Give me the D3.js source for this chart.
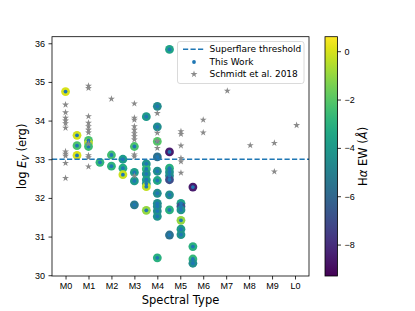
<!DOCTYPE html>
<html>
<head>
<meta charset="utf-8">
<script src="https://cdn.jsdelivr.net/npm/d3@7"></script>
<style>
  body { margin: 0; background: #fff; }
  svg { font-family: "DejaVu Sans", sans-serif; }
  .tick text { font-size: 9px; fill: #000; }
  .tick line { stroke: #000; stroke-width: 0.8; }
</style>
</head>
<body>
<div id="container"></div>
<script>
/* ---------- DATA ---------- */
// spectral type ticks
const sptLabels = ["M0", "M1", "M2", "M3", "M4", "M5", "M6", "M7", "M8", "M9", "L0"];
const logETicks = [30, 31, 32, 33, 34, 35, 36];
const ewTicks = [0, -2, -4, -6, -8];
const legendLabels = ["Superflare threshold", "This Work", "Schmidt et al. 2018"];
const threshold = 33;

// This Work: spectral type, log E_V, H-alpha EW
const workSpt = [
  0,
  0.5, 0.5, 0.5,
  1, 1, 1,
  1.5,
  2, 2,
  2.5, 2.5, 2.5,
  3, 3, 3, 3,
  3.52, 3.52, 3.52, 3.52, 3.52, 3.52, 3.52, 3.52,
  4, 4, 4, 4, 4, 4, 4, 4, 4, 4, 4, 4,
  4.53, 4.53, 4.53, 4.53, 4.53, 4.53, 4.53, 4.53, 4.53,
  5.03, 5.03, 5.03, 5.03, 5.03, 5.03,
  5.55, 5.55, 5.55, 5.55
];
const workLogE = [
  34.75,
  33.62, 33.35, 33.10,
  33.49, 33.42, 33.33,
  32.92,
  33.11, 32.82,
  33.00, 32.77, 32.60,
  33.33, 32.66, 32.44, 31.82,
  34.10, 32.88, 32.75, 32.62, 32.47, 32.37, 32.29, 31.68,
  34.37, 33.84, 33.46, 33.06, 32.69, 32.45, 32.12, 31.86, 31.78, 31.66, 31.52, 30.45,
  35.84, 33.19, 32.77, 32.67, 32.57, 32.47, 32.08, 31.69, 31.04,
  31.86, 31.78, 31.69, 31.42, 31.19, 31.05,
  32.28, 30.74, 30.42, 30.31
];
const workEW = [
  0.0,
  -0.1, -2.2, 0.0,
  -2.3, -0.5, -2.5,
  -2.8,
  -2.4, -2.9,
  -3.9, -3.2, -0.2,
  -2.2, -3.8, -4.0, -5.3,
  -4.0, -4.2, -2.8, -4.3, -3.8, -4.2, -0.3, -1.0,
  -4.6, -4.5, -2.0, -5.6, -4.4, -3.4, -4.5, -4.4, -4.6, -4.5, -4.2, -3.0,
  -3.6, -8.6, -3.0, -4.2, -4.4, -7.0, -4.5, -3.0, -5.6,
  -3.6, -6.8, -4.2, -1.0, -4.0, -4.3,
  -8.6, -3.0, -2.7, -4.5
];

// Schmidt et al. 2018: spectral type, log E_V
const schmidtSpt = [
  0, 0, 0, 0, 0, 0, 0, 0, 0, 0, 0,
  1, 1, 1, 1, 1, 1, 1, 1, 1, 1, 1,
  2,
  3, 3, 3, 3, 3, 3, 3, 3, 3, 3, 3,
  4, 4, 4, 4,
  5.03, 5.03, 5.03, 5.03, 5.03, 5.03,
  6, 6,
  7.05,
  8.05,
  9.1, 9.1,
  10.07
];
const schmidtLogE = [
  34.41, 34.21, 34.07, 34.00, 33.93, 33.81, 33.20, 33.14, 33.09, 32.90, 32.51,
  34.90, 34.84, 34.11, 33.94, 33.85, 33.76, 33.69, 33.40, 33.10, 33.05, 32.81,
  34.56,
  34.44, 34.07, 34.02, 33.85, 33.76, 33.67, 33.59, 33.51, 33.12, 33.07, 32.57,
  34.19, 33.68, 33.47, 33.29,
  33.72, 33.65, 33.35, 33.03, 32.94, 32.65,
  34.02, 33.69,
  34.77,
  33.36,
  33.42, 32.68,
  33.88
];

/* ---------- CONSTANTS ---------- */
const width = 415,
  height = 311,
  plot = { left: 52, right: 309, top: 36.7, bottom: 276 },
  cbar = { left: 325, right: 337.5 };

const work = workSpt.map((s, i) => ({ spt: s, logE: workLogE[i], ew: workEW[i] }));
const schmidt = schmidtSpt.map((s, i) => ({ spt: s, logE: schmidtLogE[i] }));

/* ---------- SCALES ---------- */
const xScale = d3.scaleLinear().domain([-0.59, 10.61]).range([plot.left, plot.right]);
const yScale = d3.scaleLinear().domain([29.98, 36.17]).range([plot.bottom, plot.top]);
const ewScale = d3.scaleLinear().domain([-9.3, 0.6]).range([plot.bottom, plot.top]);
const colorScale = d3.scaleSequential(d3.interpolateViridis).domain([-9.3, 0.6]);

const svg = d3.select("#container")
  .append("svg")
  .attr("width", width)
  .attr("height", height);

/* ---------- AXES ---------- */
const xAxis = d3.axisBottom(xScale)
  .tickValues(d3.range(sptLabels.length))
  .tickFormat(i => sptLabels[i])
  .tickSize(3.5)
  .tickPadding(3.5);

const yAxis = d3.axisLeft(yScale)
  .tickValues(logETicks)
  .tickFormat(d3.format("d"))
  .tickSize(3.5)
  .tickPadding(3.5);

svg.append("g")
  .attr("transform", `translate(0,${plot.bottom})`)
  .call(xAxis)
  .call(g => g.select(".domain").remove());

svg.append("g")
  .attr("transform", `translate(${plot.left},0)`)
  .call(yAxis)
  .call(g => g.select(".domain").remove());

/* ---------- MARKS ---------- */
// coloured circles (H-alpha EW)
svg.append("g")
  .selectAll("circle")
  .data(work)
  .join("circle")
  .attr("cx", d => xScale(d.spt))
  .attr("cy", d => yScale(d.logE))
  .attr("r", 4.4)
  .attr("fill", d => colorScale(d.ew));

// superflare threshold
svg.append("line")
  .attr("x1", plot.left)
  .attr("x2", plot.right)
  .attr("y1", yScale(threshold))
  .attr("y2", yScale(threshold))
  .attr("stroke", "#1f77b4")
  .attr("stroke-width", 1.4)
  .attr("stroke-dasharray", "5.2,2.3");

// this work dots
svg.append("g")
  .selectAll("circle")
  .data(work)
  .join("circle")
  .attr("cx", d => xScale(d.spt))
  .attr("cy", d => yScale(d.logE))
  .attr("r", 1.9)
  .attr("fill", "#1f77b4");

// Schmidt stars
const star = d3.symbol().type(d3.symbolStar).size(15);
svg.append("g")
  .selectAll("path")
  .data(schmidt)
  .join("path")
  .attr("d", star)
  .attr("transform", d => `translate(${xScale(d.spt)},${yScale(d.logE)})`)
  .attr("fill", "#8a8a8a");

// frame
svg.append("rect")
  .attr("x", plot.left)
  .attr("y", plot.top)
  .attr("width", plot.right - plot.left)
  .attr("height", plot.bottom - plot.top)
  .attr("fill", "none")
  .attr("stroke", "#000")
  .attr("stroke-width", 0.8);

/* ---------- LEGEND ---------- */
const lg = svg.append("g");
lg.append("rect")
  .attr("x", 177.5).attr("y", 41.5)
  .attr("width", 126.5).attr("height", 42)
  .attr("rx", 2.5)
  .attr("fill", "#fff").attr("fill-opacity", 0.8)
  .attr("stroke", "#d0d0d0").attr("stroke-width", 0.8);

const rowY = [49.2, 62, 74.2];
lg.append("line")
  .attr("x1", 183).attr("x2", 205)
  .attr("y1", rowY[0]).attr("y2", rowY[0])
  .attr("stroke", "#1f77b4").attr("stroke-width", 1.4)
  .attr("stroke-dasharray", "5.2,2.3");
lg.append("circle")
  .attr("cx", 194).attr("cy", rowY[1]).attr("r", 1.9)
  .attr("fill", "#1f77b4");
lg.append("path")
  .attr("d", star)
  .attr("transform", `translate(194,${rowY[2]})`)
  .attr("fill", "#8a8a8a");
lg.selectAll("text")
  .data(legendLabels)
  .join("text")
  .attr("x", 209.5)
  .attr("y", (d, i) => rowY[i] + 3.2)
  .attr("font-size", 9)
  .text(d => d);

/* ---------- AXIS LABELS ---------- */
svg.append("text")
  .attr("x", (plot.left + plot.right) / 2)
  .attr("y", 303.5)
  .attr("text-anchor", "middle")
  .attr("font-size", 11.5)
  .text("Spectral Type");

const yl = svg.append("text")
  .attr("transform", `translate(26,${(plot.top + plot.bottom) / 2}) rotate(-90)`)
  .attr("text-anchor", "middle")
  .attr("font-size", 11.5);
yl.append("tspan").text("log ");
yl.append("tspan").attr("font-style", "italic").text("E");
yl.append("tspan").attr("font-style", "italic").attr("font-size", 8).attr("dy", 2.5).text("V");
yl.append("tspan").attr("dy", -2.5).text(" (erg)");

/* ---------- COLORBAR ---------- */
const defs = svg.append("defs");
const grad = defs.append("linearGradient")
  .attr("id", "viridis")
  .attr("x1", 0).attr("y1", 1).attr("x2", 0).attr("y2", 0);
grad.selectAll("stop")
  .data(d3.range(0, 1.0001, 0.05))
  .join("stop")
  .attr("offset", t => t)
  .attr("stop-color", t => d3.interpolateViridis(t));

svg.append("rect")
  .attr("x", cbar.left)
  .attr("y", plot.top)
  .attr("width", cbar.right - cbar.left)
  .attr("height", plot.bottom - plot.top)
  .attr("fill", "url(#viridis)")
  .attr("stroke", "#000")
  .attr("stroke-width", 0.8);

svg.append("g")
  .attr("transform", `translate(${cbar.right},0)`)
  .call(d3.axisRight(ewScale).tickValues(ewTicks).tickSize(3.5).tickPadding(3.5))
  .call(g => g.select(".domain").remove());

const cl = svg.append("text")
  .attr("transform", `translate(367,${(plot.top + plot.bottom) / 2}) rotate(-90)`)
  .attr("text-anchor", "middle")
  .attr("font-size", 11.5);
cl.append("tspan").text("H");
cl.append("tspan").attr("font-style", "italic").text("α");
cl.append("tspan").text(" EW (");
cl.append("tspan").attr("font-style", "italic").text("Å");
cl.append("tspan").text(")");
</script>
</body>
</html>
